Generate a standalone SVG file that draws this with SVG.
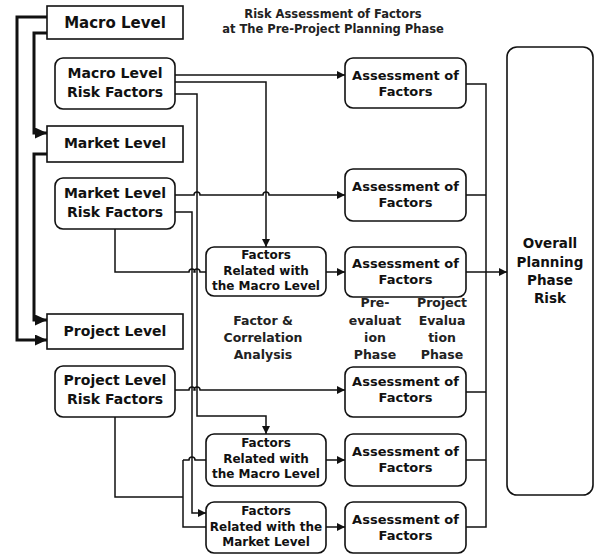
<svg xmlns="http://www.w3.org/2000/svg" width="600" height="556" viewBox="0 0 600 556">
<style>
text{font-family:"DejaVu Sans","Verdana",sans-serif;font-weight:bold;fill:#111;text-anchor:middle}
.box{fill:#fff;stroke:#111;stroke-width:1.6}
.t15{font-size:15px}.t14{font-size:14px}.t13{font-size:13px}.t12{font-size:12px}.t135{font-size:13.5px}
.title{font-size:11.5px;fill:#222}
.lbl{font-size:12.5px;fill:#222}
.thin{fill:none;stroke:#111;stroke-width:1.5}
.thick{fill:none;stroke:#111;stroke-width:3}
</style>
<defs>
<marker id="ah" markerUnits="userSpaceOnUse" markerWidth="10" markerHeight="10" refX="8" refY="4" orient="auto"><path d="M0,0 L8,4 L0,8 Z" fill="#111"/></marker>
<marker id="ahb" markerUnits="userSpaceOnUse" markerWidth="14" markerHeight="14" refX="12" refY="5.5" orient="auto"><path d="M0,0 L12,5.5 L0,11 Z" fill="#111"/></marker>
</defs>
<rect width="600" height="556" fill="#fff"/>
<g id="title">
<text class="title" x="333" y="18">Risk Assessment of Factors</text>
<text class="title" x="333" y="33">at The Pre-Project Planning Phase</text>
</g>
<g id="connectors">
<path class="thick" d="M47,17 H17 V340 H47" marker-end="url(#ahb)"/>
<path class="thick" d="M47,33 H34 V133 H47" marker-end="url(#ahb)"/>
<path class="thick" d="M47,154 H34 V320 H47" marker-end="url(#ahb)"/>
<path class="thin" d="M175,75 H345" marker-end="url(#ah)"/>
<path class="thin" d="M175,82 H266 V247" marker-end="url(#ah)"/>
<path class="thin" d="M175,94 H197 V416 H266 V434" marker-end="url(#ah)"/>
<path class="thin" d="M175,195 H194 a3,3 0 0 1 6,0 H263 a3,3 0 0 1 6,0 H345" marker-end="url(#ah)"/>
<path class="thin" d="M175,212 H192 V513 H206" marker-end="url(#ah)"/>
<path class="thin" d="M115,229 V272 H189 a3,3 0 0 1 6,0 H194 a3,3 0 0 1 6,0 H206"/>
<path class="thin" d="M175,390 H189 a3,3 0 0 1 6,0 H194 a3,3 0 0 1 6,0 H345" marker-end="url(#ah)"/>
<path class="thin" d="M115,417 V497 H183 M183,460 V527 H206 M183,460 H189 a3,3 0 0 1 6,0 H206"/>
<path class="thin" d="M326,272 H345" marker-end="url(#ah)"/>
<path class="thin" d="M326,460 H345" marker-end="url(#ah)"/>
<path class="thin" d="M326,527 H345" marker-end="url(#ah)"/>
<path class="thin" d="M466,84 H486 V527 H466 M466,195 H486 M466,272 H486 M466,392 H486 M466,460 H486"/>
<path class="thin" d="M486,272 H507" marker-end="url(#ah)"/>
</g>
<g id="macroLevel"><rect class="box" x="47" y="6" width="136" height="33"/><text class="t15" x="115" y="28">Macro Level</text></g>
<g id="macroRisk"><rect class="box" x="55" y="58" width="120" height="51" rx="8"/><text class="t14" x="115" y="78">Macro Level</text><text class="t14" x="115" y="97">Risk Factors</text></g>
<g id="marketLevel"><rect class="box" x="47" y="126" width="136" height="36"/><text class="t14" x="115" y="148">Market Level</text></g>
<g id="marketRisk"><rect class="box" x="55" y="178" width="120" height="51" rx="8"/><text class="t14" x="115" y="198">Market Level</text><text class="t14" x="115" y="217">Risk Factors</text></g>
<g id="projectLevel"><rect class="box" x="47" y="314" width="136" height="35"/><text class="t14" x="115" y="336">Project Level</text></g>
<g id="projectRisk"><rect class="box" x="55" y="366" width="120" height="51" rx="8"/><text class="t14" x="115" y="385">Project Level</text><text class="t14" x="115" y="404">Risk Factors</text></g>
<g id="assess1"><rect class="box" x="345" y="58" width="121" height="50" rx="8"/><text class="t13" x="405.5" y="80">Assessment of</text><text class="t13" x="405.5" y="96">Factors</text></g>
<g id="assess2"><rect class="box" x="345" y="169" width="121" height="52" rx="8"/><text class="t13" x="405.5" y="191">Assessment of</text><text class="t13" x="405.5" y="207">Factors</text></g>
<g id="assess3"><rect class="box" x="345" y="247" width="121" height="50" rx="8"/><text class="t13" x="405.5" y="268">Assessment of</text><text class="t13" x="405.5" y="284">Factors</text></g>
<g id="assess4"><rect class="box" x="345" y="367" width="121" height="50" rx="8"/><text class="t13" x="405.5" y="386">Assessment of</text><text class="t13" x="405.5" y="402">Factors</text></g>
<g id="assess5"><rect class="box" x="345" y="434" width="121" height="52" rx="8"/><text class="t13" x="405.5" y="456">Assessment of</text><text class="t13" x="405.5" y="472">Factors</text></g>
<g id="assess6"><rect class="box" x="345" y="502" width="121" height="51" rx="8"/><text class="t13" x="405.5" y="524">Assessment of</text><text class="t13" x="405.5" y="540">Factors</text></g>
<g id="factorsMacro1"><rect class="box" x="206" y="247" width="120" height="49" rx="8"/><text class="t12" x="266" y="259">Factors</text><text class="t12" x="266" y="275">Related with</text><text class="t12" x="266" y="290">the Macro Level</text></g>
<g id="factorsMacro2"><rect class="box" x="206" y="434" width="120" height="52" rx="8"/><text class="t12" x="266" y="447">Factors</text><text class="t12" x="266" y="463">Related with</text><text class="t12" x="266" y="478">the Macro Level</text></g>
<g id="factorsMarket"><rect class="box" x="206" y="502" width="120" height="51" rx="8"/><text class="t12" x="266" y="515">Factors</text><text class="t12" x="266" y="531">Related with the</text><text class="t12" x="266" y="546">Market Level</text></g>
<g id="overall"><rect class="box" x="507" y="47" width="86" height="448" rx="10"/><text class="t135" x="550" y="248">Overall</text><text class="t135" x="550" y="267">Planning</text><text class="t135" x="550" y="285">Phase</text><text class="t135" x="550" y="303">Risk</text></g>
<g id="labels">
<text class="lbl" x="263" y="325">Factor &amp;</text><text class="lbl" x="263" y="342">Correlation</text><text class="lbl" x="263" y="359">Analysis</text>
<text class="lbl" x="375" y="307">Pre-</text><text class="lbl" x="375" y="325">evaluat</text><text class="lbl" x="375" y="342">ion</text><text class="lbl" x="375" y="359">Phase</text>
<text class="lbl" x="442" y="307">Project</text><text class="lbl" x="442" y="325">Evalua</text><text class="lbl" x="442" y="342">tion</text><text class="lbl" x="442" y="359">Phase</text>
</g>
</svg>
